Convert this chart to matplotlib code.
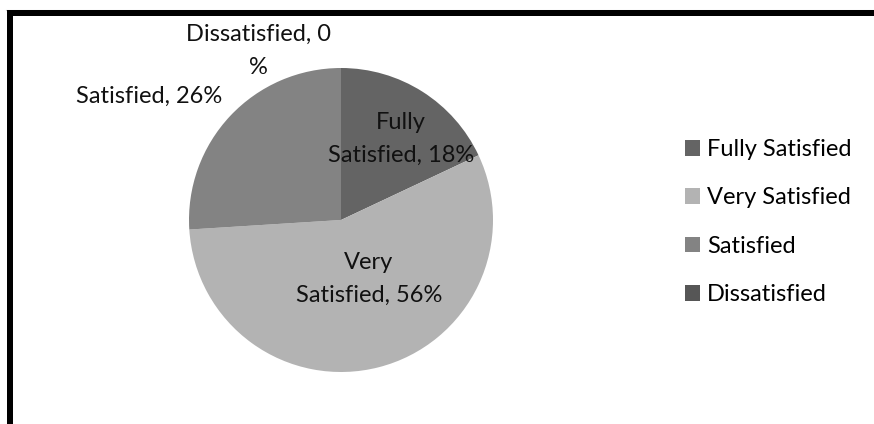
import matplotlib
matplotlib.use("Agg")
import matplotlib.pyplot as plt
from matplotlib.lines import Line2D

# Satisfaction survey shares
categories = ["Fully Satisfied", "Very Satisfied", "Satisfied", "Dissatisfied"]
shares = [18, 56, 26, 0]
colors = ["#646464", "#b3b3b3", "#838383", "#565656"]

plt.rcParams["font.family"] = ["Lato", "DejaVu Sans"]

W, H = 874, 424
fig = plt.figure(figsize=(W / 100, H / 100), dpi=100)

# pie centred at (341, 220) px with radius 152 px
cx, cy, r = 341, 220, 152
ax = fig.add_axes([(cx - r) / W, (H - cy - r) / H, 2 * r / W, 2 * r / H])
wedges, _ = ax.pie(shares, colors=colors, startangle=90, counterclock=False,
                   radius=1.0, wedgeprops=dict(linewidth=0))
ax.set_xlim(-1, 1)
ax.set_ylim(-1, 1)
ax.set_aspect("equal")
ax.axis("off")

# data labels, wrapped the way the office chart wraps them
lab = {c: f"{c}, {v}%" for c, v in zip(categories, shares)}
fs = 17
def px(x, y, s):
    fig.text(x / W, 1 - y / H, s, ha="center", va="center", fontsize=fs,
             linespacing=1.7, color="#111111")

px(401, 139, "Fully\nSatisfied, 18%")
px(369, 279, "Very\nSatisfied, 56%")
px(149, 96, lab["Satisfied"])
px(258, 51, "Dissatisfied, 0\n%")

leg = fig.legend(wedges, categories, loc="upper left",
                 bbox_to_anchor=(685 / W, 1 - 139 / H), frameon=False,
                 fontsize=fs, handlelength=0.64, handleheight=0.64,
                 handletextpad=0.3, labelspacing=1.16, borderpad=0,
                 borderaxespad=0)

# thick frame, cut off at the right and bottom
lw = 6 * 72 / 100
fig.add_artist(Line2D([6 / W, 1], [1 - 9.5 / H, 1 - 9.5 / H], color="#c8c8c8",
                      lw=0.8, transform=fig.transFigure))
fig.add_artist(Line2D([10 / W, 10 / W], [0, 1 - 13 / H], color="black",
                      lw=lw, solid_capstyle="butt", transform=fig.transFigure))
fig.add_artist(Line2D([7 / W, 1], [1 - 13 / H, 1 - 13 / H], color="black",
                      lw=lw, solid_capstyle="butt", transform=fig.transFigure))

fig.savefig("out.png", dpi=100, facecolor="white")
